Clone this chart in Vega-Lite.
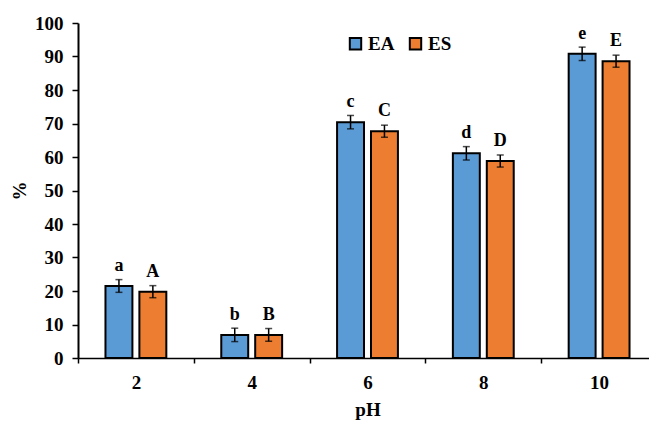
{
  "$schema": "https://vega.github.io/schema/vega-lite/v6.json",
  "width": 571,
  "height": 335,
  "autosize": {"type": "none"},
  "padding": {"left": 78, "top": 23, "right": 0, "bottom": 71},
  "config": {
    "view": {"stroke": null},
    "font": "Liberation Serif",
    "axis": {"grid": false, "domainColor": "black", "tickColor": "black", "labelColor": "black", "titleColor": "black"},
    "axisY": {"tickCount": 10, "labelOverlap": false, "labelFontSize": 19, "labelFontWeight": "bold", "labelPadding": 9, "tickSize": 6, "tickWidth": 1.5, "domain": true, "domainColor": "black", "domainWidth": 2, "titleFontSize": 19, "titleFontWeight": "bold", "titlePadding": 5}
  },
  "data": {"values": [
    {"pH": "2", "series": "EA", "value": 21.5, "lo": 19.6, "hi": 23.4, "label": "a"},
    {"pH": "2", "series": "ES", "value": 19.8, "lo": 18.0, "hi": 21.6, "label": "A"},
    {"pH": "4", "series": "EA", "value": 6.9, "lo": 4.9, "hi": 8.9, "label": "b"},
    {"pH": "4", "series": "ES", "value": 6.9, "lo": 5.0, "hi": 8.8, "label": "B"},
    {"pH": "6", "series": "EA", "value": 70.4, "lo": 68.4, "hi": 72.4, "label": "c"},
    {"pH": "6", "series": "ES", "value": 67.7, "lo": 65.9, "hi": 69.5, "label": "C"},
    {"pH": "8", "series": "EA", "value": 61.1, "lo": 59.1, "hi": 63.1, "label": "d"},
    {"pH": "8", "series": "ES", "value": 58.8, "lo": 57.0, "hi": 60.6, "label": "D"},
    {"pH": "10", "series": "EA", "value": 90.8, "lo": 88.8, "hi": 92.8, "label": "e"},
    {"pH": "10", "series": "ES", "value": 88.6, "lo": 86.8, "hi": 90.4, "label": "E"}
  ]},
  "encoding": {
    "x": {
      "field": "pH", "type": "ordinal", "sort": ["2", "4", "6", "8", "10"],
      "scale": {"range": [0, 579], "paddingInner": 0, "paddingOuter": 0},
      "axis": {"title": "pH", "titleFontSize": 19, "titleFontWeight": "bold", "titlePadding": 8, "labelFontSize": 19, "labelFontWeight": "bold", "labelAngle": 0, "labelPadding": 10, "tickBand": "extent", "tickSize": 5, "tickWidth": 1.5, "domainWidth": 1.5}
    },
    "xOffset": {"field": "series", "type": "nominal", "scale": {"paddingInner": 0.206, "paddingOuter": 0.81}}
  },
  "layer": [
    {
      "mark": {"type": "bar", "stroke": "black", "strokeWidth": 2},
      "encoding": {
        "y": {"field": "value", "type": "quantitative", "scale": {"domain": [0, 100], "nice": false}, "title": "%"},
        "fill": {"field": "series", "type": "nominal", "scale": {"domain": ["EA", "ES"], "range": ["#5B9BD5", "#ED7D31"]},
          "legend": {"title": null, "orient": "none", "legendX": 268, "legendY": 11, "direction": "horizontal", "symbolType": "square", "symbolSize": 130, "symbolStrokeColor": "black", "symbolStrokeWidth": 2, "labelFontSize": 19, "labelFontWeight": "bold", "labelColor": "black", "columnPadding": 10, "labelOffset": 3}}
      }
    },
    {
      "mark": {"type": "rule", "stroke": "black", "strokeWidth": 1.5},
      "encoding": {"y": {"field": "lo", "type": "quantitative", "title": "%"}, "y2": {"field": "hi"}}
    },
    {
      "mark": {"type": "tick", "color": "black", "thickness": 1.5, "size": 7},
      "encoding": {"y": {"field": "lo", "type": "quantitative", "title": "%"}}
    },
    {
      "mark": {"type": "tick", "color": "black", "thickness": 1.5, "size": 7},
      "encoding": {"y": {"field": "hi", "type": "quantitative", "title": "%"}}
    },
    {
      "mark": {"type": "text", "fontSize": 18, "fontWeight": "bold", "baseline": "alphabetic", "dy": -15, "color": "black"},
      "encoding": {"y": {"field": "value", "type": "quantitative", "title": "%"}, "text": {"field": "label"}}
    }
  ]
}
